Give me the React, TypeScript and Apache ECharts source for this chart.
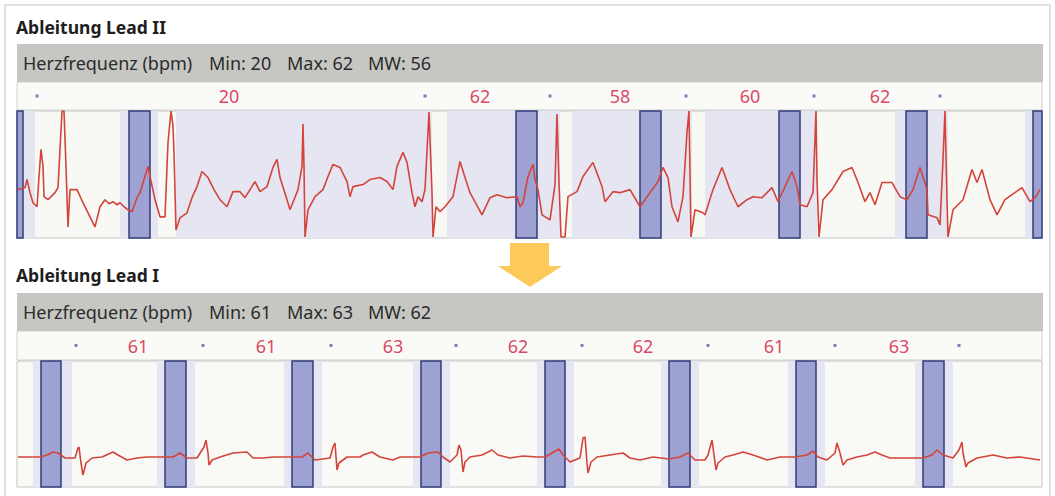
import React, { useEffect, useRef } from 'react';
import * as echarts from 'echarts';

// Time axis in samples (0..1025), amplitude in display units (0..126)
const leadIITrace: [number, number][] = [
  [1, 48], [8, 50], [10, 58], [13, 45], [16, 35], [20, 31], [22, 61], [24, 88], [26, 71], [27, 41],
  [31, 38], [38, 45], [41, 50], [43, 88], [45, 126], [47, 126], [49, 71], [51, 11], [53, 48], [60, 48],
  [66, 35], [73, 21], [78, 11], [83, 31], [88, 38], [92, 34], [96, 36], [100, 33], [103, 35], [107, 31],
  [111, 28], [115, 26], [120, 40], [123, 45], [131, 71], [133, 61], [138, 38], [143, 21], [148, 21], [151, 95],
  [154, 126], [156, 111], [157, 85], [159, 8], [163, 20], [170, 25], [175, 40], [180, 51], [185, 66], [191, 60],
  [197, 48], [203, 38], [210, 31], [216, 46], [223, 46], [228, 40], [238, 56], [243, 46], [250, 51], [256, 70],
  [260, 78], [263, 60], [270, 38], [273, 28], [281, 48], [285, 71], [286, 113], [287, 71], [288, 1], [291, 28],
  [298, 41], [306, 48], [311, 61], [316, 73], [323, 70], [330, 56], [333, 41], [336, 51], [346, 53], [353, 58],
  [363, 60], [370, 56], [376, 48], [380, 71], [386, 85], [390, 75], [395, 45], [398, 31], [401, 41], [405, 36],
  [408, 48], [412, 125], [415, 45], [416, 1], [419, 31], [423, 26], [428, 31], [436, 41], [443, 76], [448, 60],
  [453, 45], [465, 23], [473, 40], [480, 43], [490, 40], [500, 41], [503, 31], [506, 35], [511, 61], [516, 73],
  [518, 58], [521, 48], [525, 23], [533, 18], [538, 53], [540, 123], [542, 55], [544, 1], [548, 1], [551, 41],
  [560, 46], [566, 61], [576, 75], [585, 51], [588, 36], [596, 46], [603, 45], [613, 48], [623, 31], [633, 45],
  [641, 56], [646, 70], [651, 60], [655, 31], [661, 16], [666, 41], [670, 105], [672, 126], [674, 1], [678, 28],
  [686, 25], [688, 23], [696, 48], [705, 70], [713, 48], [721, 31], [730, 38], [736, 41], [745, 40], [755, 50],
  [761, 36], [768, 51], [775, 66], [780, 51], [783, 33], [790, 31], [796, 45], [799, 126], [800, 58], [802, 1],
  [806, 38], [815, 48], [826, 66], [835, 70], [841, 55], [848, 36], [853, 45], [858, 33], [865, 55], [875, 55],
  [883, 41], [890, 38], [896, 48], [903, 70], [910, 48], [911, 23], [920, 20], [923, 13], [926, 78], [928, 126],
  [930, 38], [931, 1], [936, 28], [946, 38], [955, 68], [960, 55], [965, 68], [973, 38], [980, 23], [988, 38],
  [995, 43], [1005, 50], [1013, 36], [1018, 40], [1023, 48],
];

const leadITrace: [number, number][] = [
  [1, 30], [23, 30], [30, 32], [36, 35], [41, 34], [48, 29], [58, 29], [61, 39], [62, 40], [64, 24],
  [66, 12], [69, 24], [75, 29], [85, 30], [96, 35], [101, 32], [110, 27], [120, 29], [130, 30], [148, 30],
  [156, 30], [163, 34], [170, 29], [180, 29], [187, 40], [189, 47], [191, 34], [192, 22], [195, 27], [203, 30],
  [216, 34], [230, 35], [236, 29], [246, 29], [256, 30], [275, 30], [285, 30], [291, 34], [298, 27], [313, 29],
  [316, 40], [318, 44], [320, 17], [322, 24], [330, 30], [343, 30], [346, 32], [355, 35], [363, 30], [376, 27],
  [383, 30], [403, 30], [411, 34], [421, 35], [426, 30], [433, 25], [440, 32], [442, 42], [444, 37], [446, 15],
  [448, 25], [453, 30], [465, 32], [475, 37], [481, 32], [493, 29], [506, 31], [520, 30], [528, 30], [535, 34],
  [542, 38], [546, 32], [553, 25], [563, 29], [566, 49], [568, 50], [570, 24], [571, 14], [574, 25], [580, 30],
  [593, 32], [606, 34], [613, 29], [623, 27], [636, 30], [652, 28], [663, 30], [671, 34], [678, 27], [688, 27],
  [691, 32], [695, 47], [697, 32], [699, 17], [701, 24], [708, 30], [716, 32], [726, 35], [736, 32], [750, 27],
  [763, 30], [778, 30], [790, 32], [796, 36], [801, 30], [810, 27], [818, 34], [820, 44], [823, 34], [826, 22],
  [830, 27], [840, 30], [850, 32], [858, 35], [865, 32], [873, 29], [883, 29], [906, 29], [915, 32], [920, 37],
  [926, 32], [936, 29], [942, 37], [945, 45], [946, 34], [949, 20], [951, 24], [960, 29], [976, 32], [990, 29],
  [1003, 30], [1023, 27],
];

const leadIIBeatWindows: [number, number][] = [
  [0, 6], [112, 133], [499, 520], [623, 644], [762, 783], [889, 910], [1016, 1025],
];
const leadIIShade: [number, number][] = [
  [6, 18], [103, 112], [133, 141], [159, 415], [430, 499], [520, 543], [555, 623], [644, 675],
  [688, 762], [783, 800], [878, 889], [910, 931], [1008, 1016],
];
const leadIBeatWindows: [number, number][] = [
  [24, 44], [148, 169], [275, 296], [404, 424], [528, 548], [652, 673], [779, 799], [906, 927],
];
const leadIShade: [number, number][] = [
  [16, 24], [44, 55], [140, 148], [169, 178], [267, 275], [296, 305], [396, 404], [424, 433],
  [520, 528], [548, 557], [644, 652], [673, 682], [771, 779], [799, 808], [898, 906], [927, 936],
];

const leadIIDots = [20, 408, 533, 669, 797, 923];
const leadIIRates = [20, 62, 58, 60, 62];
const leadIIRatePos = [212, 463, 603, 733, 863];
const leadIDots = [59, 186, 314, 439, 565, 691, 818, 942];
const leadIRates = [61, 61, 63, 62, 62, 61, 63];
const leadIRatePos = [121, 249, 376, 501, 626, 757, 882];

const statLabels = ['Min', 'Max', 'MW'];
const leadIIStats = [20, 62, 56];
const leadIStats = [61, 63, 62];

const FONT = '"Noto Sans", "Open Sans", sans-serif';
const TRACE_COLOR = '#d3443a';
const BEAT_FILL = '#9ea2d3';
const BEAT_BORDER = '#2f3d7c';
const SHADE = '#e6e6f3';
const RATE_COLOR = '#d4103f';
const DOT_COLOR = '#5c5fae';

function headerTexts(y: number, stats: number[]) {
  const xs = [209, 287, 368];
  const els: any[] = [
    { type: 'text', x: 23, y, style: { text: 'Herzfrequenz (bpm)', fontSize: 18, fontFamily: FONT, fill: '#2b2b2b', verticalAlign: 'middle' } },
  ];
  stats.forEach((v, i) => {
    els.push({ type: 'text', x: xs[i], y, style: { text: `${statLabels[i]}: ${v}`, fontSize: 18, fontFamily: FONT, fill: '#2b2b2b', verticalAlign: 'middle' } });
  });
  return els;
}

export default function App() {
  const ref = useRef<HTMLDivElement>(null);
  useEffect(() => {
    if (!ref.current) return;
    const chart = echarts.init(ref.current, null, { renderer: 'svg' });
    const gridCommon = { left: 17, width: 1025, show: true, borderWidth: 1 };
    const xAxes = [0, 1, 2, 3].map((i) => ({ type: 'value', gridIndex: i, min: 0, max: 1025, show: false }));
    const yAxes = [
      { type: 'value', gridIndex: 0, min: 0, max: 1, show: false },
      { type: 'value', gridIndex: 1, min: 0, max: 126, show: false },
      { type: 'value', gridIndex: 2, min: 0, max: 1, show: false },
      { type: 'value', gridIndex: 3, min: 0, max: 126, show: false },
    ];
    const areaSeries = (axis: number, ranges: [number, number][], style: any, z: number) => ({
      type: 'line', xAxisIndex: axis, yAxisIndex: axis, data: [], z, silent: true,
      markArea: { silent: true, itemStyle: style, data: ranges.map(([a, b]) => [{ xAxis: a }, { xAxis: b }]) },
    });
    const traceSeries = (axis: number, data: [number, number][]) => ({
      type: 'line', xAxisIndex: axis, yAxisIndex: axis, data, showSymbol: false, z: 5, clip: true,
      lineStyle: { color: TRACE_COLOR, width: 1.6 }, silent: true,
    });
    const dotSeries = (axis: number, dots: number[]) => ({
      type: 'scatter', xAxisIndex: axis, yAxisIndex: axis, symbol: 'rect', symbolSize: 3,
      itemStyle: { color: DOT_COLOR }, data: dots.map((t) => [t, 0.5]), silent: true,
    });
    const rateSeries = (axis: number, pos: number[], rates: number[]) => ({
      type: 'scatter', xAxisIndex: axis, yAxisIndex: axis, symbolSize: 1, itemStyle: { color: 'rgba(0,0,0,0)' },
      data: pos.map((t, i) => [t, 0.5, rates[i]]), silent: true,
      label: { show: true, position: 'inside', formatter: (p: any) => String(p.value[2]), fontSize: 18, fontFamily: FONT, color: RATE_COLOR },
    });
    const beatStyle = { color: BEAT_FILL, borderColor: BEAT_BORDER, borderWidth: 1.5 };

    chart.setOption({
      animation: false,
      backgroundColor: '#ffffff',
      grid: [
        { ...gridCommon, top: 82, height: 28, backgroundColor: '#fafaf6', borderColor: '#d2d2d2' },
        { ...gridCommon, top: 111, height: 127, backgroundColor: '#f8f8f5', borderColor: '#c4c4c4' },
        { ...gridCommon, top: 331, height: 29, backgroundColor: '#fafaf6', borderColor: '#d2d2d2' },
        { ...gridCommon, top: 361, height: 126, backgroundColor: '#f9f9f6', borderColor: '#c4c4c4' },
      ],
      xAxis: xAxes,
      yAxis: yAxes,
      graphic: [
        { type: 'rect', shape: { x: 5, y: 5, width: 1045, height: 500 }, style: { fill: 'none', stroke: '#d8d8d8', lineWidth: 1.5 }, silent: true },
        { type: 'text', x: 16, y: 27, style: { text: 'Ableitung Lead II', fontSize: 17.5, fontWeight: 'bold', fontFamily: FONT, fill: '#1e1e1e', verticalAlign: 'middle' } },
        { type: 'rect', shape: { x: 17, y: 44, width: 1026, height: 38 }, style: { fill: '#c6c7c3' }, silent: true },
        ...headerTexts(63, leadIIStats),
        { type: 'polygon', shape: { points: [[510, 243], [549, 243], [549, 266], [562, 266], [530, 287], [498, 266], [510, 266]] }, style: { fill: '#fdc95a' }, silent: true },
        { type: 'text', x: 16, y: 275, style: { text: 'Ableitung Lead I', fontSize: 17.5, fontWeight: 'bold', fontFamily: FONT, fill: '#1e1e1e', verticalAlign: 'middle' } },
        { type: 'rect', shape: { x: 17, y: 293, width: 1026, height: 38 }, style: { fill: '#c6c7c3' }, silent: true },
        ...headerTexts(312, leadIStats),
      ],
      series: [
        dotSeries(0, leadIIDots),
        rateSeries(0, leadIIRatePos, leadIIRates),
        areaSeries(1, leadIIShade, { color: SHADE }, 1),
        areaSeries(1, leadIIBeatWindows, beatStyle, 2),
        traceSeries(1, leadIITrace),
        dotSeries(2, leadIDots),
        rateSeries(2, leadIRatePos, leadIRates),
        areaSeries(3, leadIShade, { color: SHADE }, 1),
        areaSeries(3, leadIBeatWindows, beatStyle, 2),
        traceSeries(3, leadITrace),
      ],
    });
    return () => chart.dispose();
  }, []);
  return <div ref={ref} style={{ position: 'fixed', left: 0, top: 0, width: 1055, height: 496 }} />;
}
